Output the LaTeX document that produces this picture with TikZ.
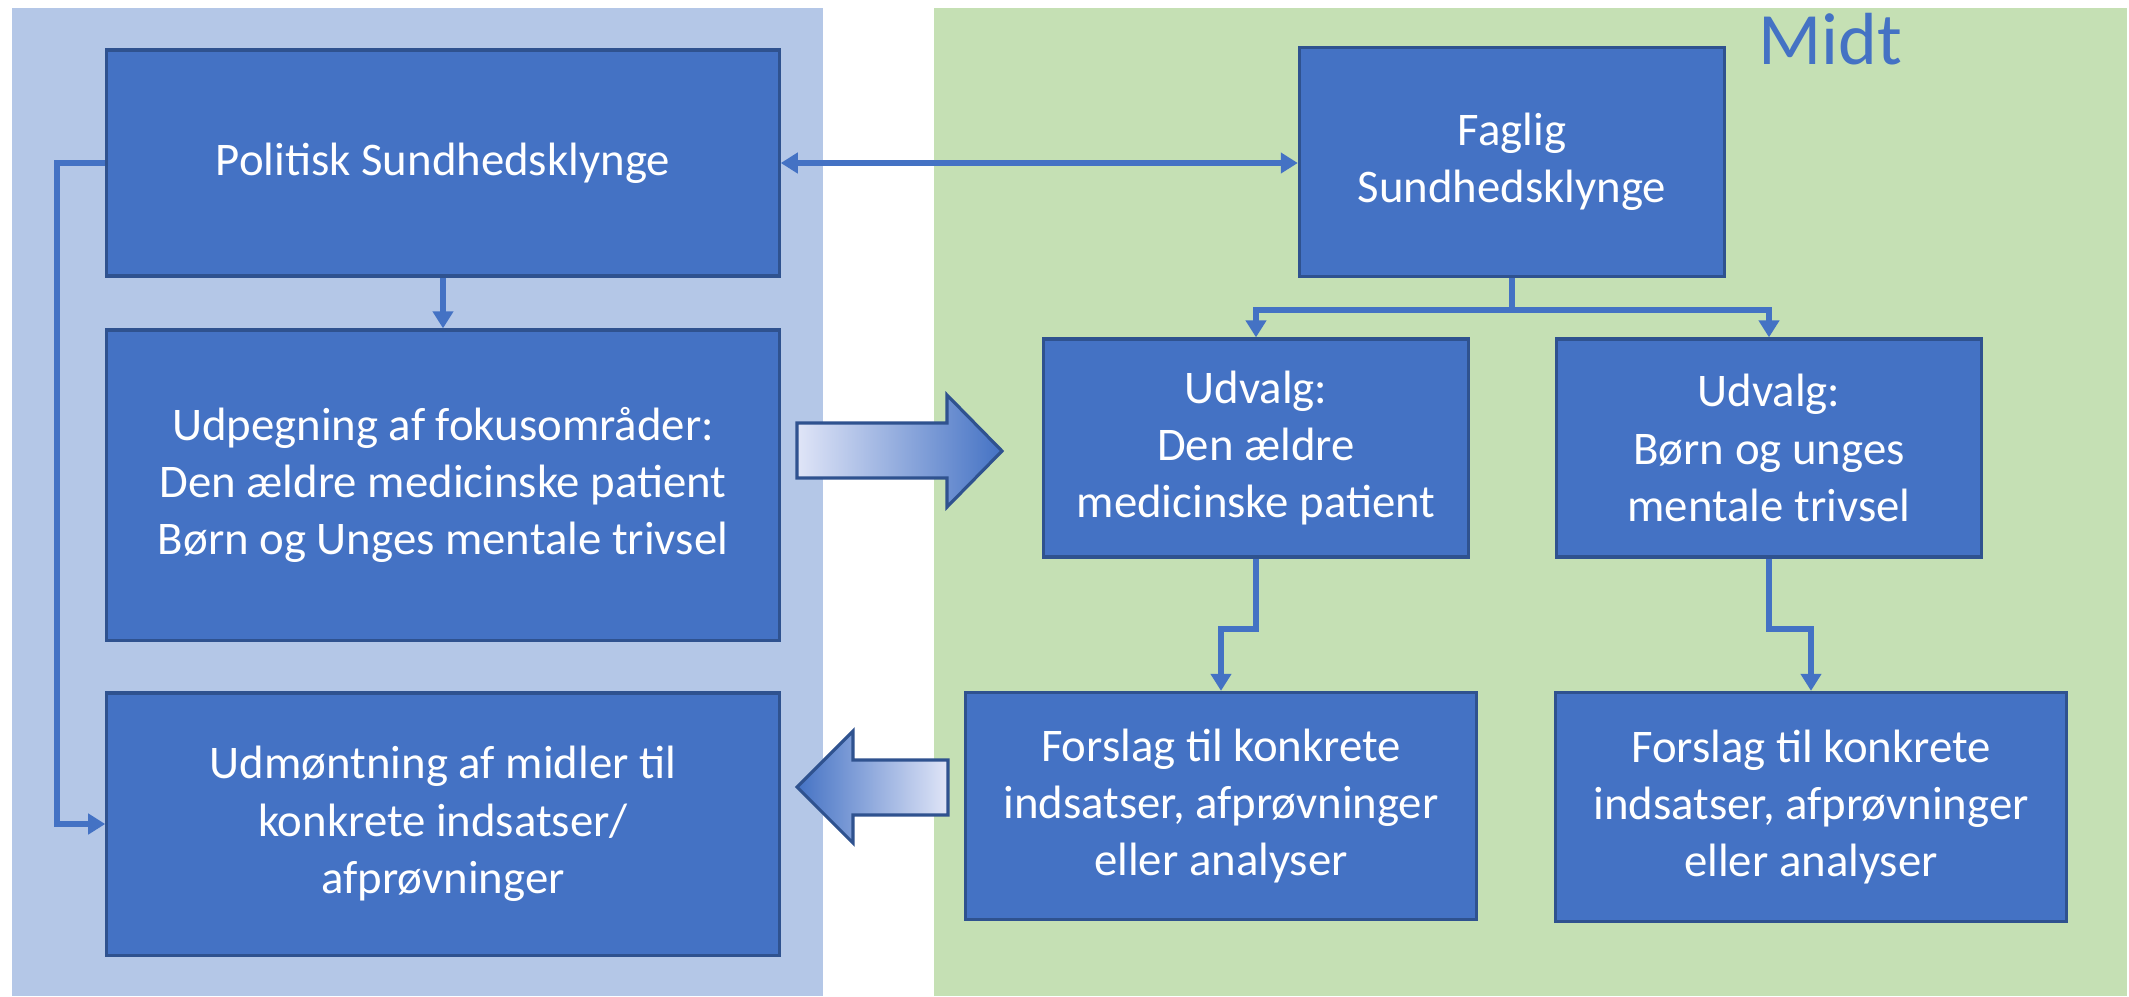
\documentclass[tikz,border=0pt]{standalone}
\usepackage{fontspec}
\setmainfont{Carlito}
\usetikzlibrary{arrows.meta}

\definecolor{panelblue}{HTML}{B4C7E7}
\definecolor{panelgreen}{HTML}{C5E0B4}
\definecolor{boxfill}{HTML}{4472C4}
\definecolor{boxline}{HTML}{2F528F}
\definecolor{arrowlight}{HTML}{E0E5F7}

\tikzset{
  box/.style={draw=boxline, line width=0.9pt, fill=boxfill, text=white, align=center,
    font=\fontsize{13.3}{16.3}\selectfont, inner sep=2pt},
  link/.style={draw=boxfill, line width=1.7pt, -{Triangle[width=0.2cm,length=0.17cm]}},
  blockarrow/.style={draw=boxline, line width=0.9pt}
}

\begin{document}
\begin{tikzpicture}[x=0.01cm, y=-0.01cm]
\useasboundingbox (0,0) rectangle (2129,996);

% panels
\fill[panelblue] (12,8) rectangle (823,996);
\fill[panelgreen] (934,8) rectangle (2127,996);
\node[anchor=base west, text=boxfill, font=\fontsize{21}{25}\selectfont] (midt) at (1746,64) {Midt};

% left column
\node[box, minimum width=6.72cm, minimum height=2.26cm] (pol) at (443,163) {Politisk Sundhedsklynge};
\node[box, minimum width=6.72cm, minimum height=3.10cm] (udp) at (443,485)
  {Udpegning af fokusområder:\\Den ældre medicinske patient\\Børn og Unges mentale trivsel};
\node[box, minimum width=6.72cm, minimum height=2.62cm] (udm) at (443,824)
  {Udmøntning af midler til\\konkrete indsatser/\\afprøvninger};

% right column
\node[box, minimum width=4.25cm, minimum height=2.29cm] (fag) at (1512,162) {Faglig\\Sundhedsklynge};
\node[box, minimum width=4.25cm, minimum height=2.18cm] (udvA) at (1256,448)
  {Udvalg:\\Den ældre\\medicinske patient};
\node[box, minimum width=4.24cm, minimum height=2.18cm] (udvB) at (1769,448)
  {Udvalg:\\Børn og unges\\mentale trivsel};
\node[box, minimum width=5.11cm, minimum height=2.27cm] (forA) at (1221,806)
  {Forslag til konkrete\\indsatser, afprøvninger\\eller analyser};
\node[box, minimum width=5.11cm, minimum height=2.29cm] (forB) at (1811,807)
  {Forslag til konkrete\\indsatser, afprøvninger\\eller analyser};

% connectors
\draw[link, {Triangle[width=0.2cm,length=0.17cm]}-{Triangle[width=0.2cm,length=0.17cm]}] (pol.east) -- (pol.east -| fag.west);
\draw[link] (pol.south) -- (udp.north);
\draw[link] (pol.west) -- ++(-48,0) |- (udm.west);
\draw[link] (fag.south) -- ++(0,32) -| (udvA.north);
\draw[link] (fag.south) -- ++(0,32) -| (udvB.north);
\draw[link] (udvA.south) -- ++(0,70) -| (forA.north);
\draw[link] (udvB.south) -- ++(0,70) -| (forB.north);

% block arrows
\shadedraw[blockarrow, left color=arrowlight, right color=boxfill]
  (797,423) -- (947,423) -- (947,395) -- (1002,451) -- (947,507) -- (947,478) -- (797,478) -- cycle;
\shadedraw[blockarrow, left color=boxfill, right color=arrowlight]
  (948,760) -- (853,760) -- (853,731) -- (797,787) -- (853,843) -- (853,815) -- (948,815) -- cycle;
\end{tikzpicture}
\end{document}
